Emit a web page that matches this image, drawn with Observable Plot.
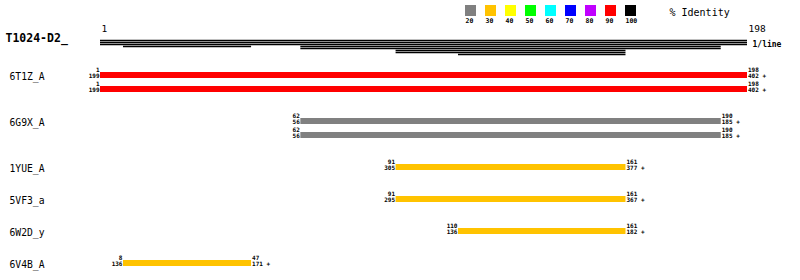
<!DOCTYPE html>
<html>
<head>
<meta charset="utf-8">
<script src="https://cdn.jsdelivr.net/npm/d3@7"></script>
<script src="https://cdn.jsdelivr.net/npm/@observablehq/plot@0.6"></script>
<style>
  html, body { margin: 0; padding: 0; background: #fff; }
  #wrap { position: relative; width: 800px; height: 280px; }
  #wrap svg { position: absolute; left: 0; top: 0; background: transparent; }
</style>
</head>
<body>
<div id="wrap"></div>
<script>
// ---- data ----
const queryName = "T1024-D2_";
const queryLength = 198;
const axisTicks = [1, 198];
const coverageLabel = "1/line";
const legendTitle = "% Identity";

const templates = ["6T1Z_A", "6G9X_A", "1YUE_A", "5VF3_a", "6W2D_y", "6V4B_A"];
const hitTemplate = ["6T1Z_A", "6T1Z_A", "6G9X_A", "6G9X_A", "1YUE_A", "5VF3_a", "6W2D_y", "6V4B_A"];
const qStart = [1, 1, 62, 62, 91, 91, 110, 8];
const qEnd = [198, 198, 190, 190, 161, 161, 161, 47];
const tStart = [199, 199, 56, 56, 305, 295, 136, 136];
const tEnd = [402, 402, 185, 185, 377, 367, 182, 171];
const identityBin = [90, 90, 20, 20, 30, 30, 30, 30];

const identityLevels = [20, 30, 40, 50, 60, 70, 80, 90, 100];
const identityColors = ["#808080", "#ffc300", "#ffff00", "#00ff00", "#00ffff", "#0000ff", "#c000ff", "#ff0000", "#000000"];

// ---- layout (px) ----
const FONT = "DejaVu Sans Mono";
const NUM = {fontSize: 6, lineHeight: 1, lineAnchor: "middle", fill: "#000", letterSpacing: 1, fontWeight: 600};
const firstBar = 75, lineStep = 14, groupGap = 18;
const covTop = 40, covStep = 2;

const hits = hitTemplate.map((t, i) => ({
  template: t, qs: qStart[i], qe: qEnd[i], ts: tStart[i], te: tEnd[i], id: identityBin[i]
}));
hits.forEach((h, i) => {
  const g = templates.indexOf(h.template);
  h.cy = firstBar + lineStep * i + groupGap * g;
});
const labels = templates.map(t => ({name: t, cy: hits.find(h => h.template === t).cy}));

// coverage packing: query on row 0, hits packed greedily
const rows = [[{s: 1, e: queryLength}]];
const coverage = [{s: 1, e: queryLength, row: 0}];
for (const h of hits) {
  let r = rows.findIndex(row => row.every(seg => h.qe < seg.s || h.qs > seg.e));
  if (r < 0) { rows.push([]); r = rows.length - 1; }
  rows[r].push({s: h.qs, e: h.qe});
  coverage.push({s: h.qs, e: h.qe, row: r});
}

const colorScale = {type: "ordinal", domain: identityLevels, range: identityColors};

const main = Plot.plot({
  width: 800, height: 280,
  marginLeft: 0, marginRight: 0, marginTop: 0, marginBottom: 0,
  x: {domain: [1, queryLength], range: [100, 747], axis: null},
  y: {domain: [0, 280], range: [0, 280], axis: null},
  color: colorScale,
  style: {fontFamily: FONT, background: "#fff", color: "#000"},
  marks: [
    Plot.text([queryName], {frameAnchor: "left", dx: 5, y: 38, text: d => d, fontWeight: "bold", fontSize: 11.5, fill: "#000"}),
    Plot.text(axisTicks, {x: d => d, y: 28, text: d => String(d), textAnchor: "start", dx: 1, fontSize: 9.5, fill: "#000"}),
    Plot.ruleY(coverage, {x1: "s", x2: "e", y: d => covTop + covStep * d.row, stroke: "#000", strokeWidth: 1.3}),
    Plot.text([coverageLabel], {x: queryLength, y: 44, text: d => d, textAnchor: "start", dx: 5, fontSize: 8, fontWeight: "bold", fill: "#000"}),
    Plot.text(labels, {frameAnchor: "left", dx: 9, y: d => d.cy + 1, text: "name", fontSize: 9.7, fill: "#000"}),
    Plot.rect(hits, {x1: "qs", x2: "qe", y1: d => d.cy - 3, y2: d => d.cy + 3, fill: "id"}),
    Plot.text(hits, {x: "qs", y: d => d.cy - 2, text: d => `${d.qs}\n${d.ts}`, textAnchor: "end", dx: -1, ...NUM}),
    Plot.text(hits, {x: "qe", y: d => d.cy - 2, text: d => `${d.qe}\n${d.te} +`, textAnchor: "start", dx: 0.5, ...NUM})
  ]
});

const legend = Plot.plot({
  width: 800, height: 26,
  marginLeft: 0, marginRight: 0, marginTop: 0, marginBottom: 0,
  x: {type: "band", domain: identityLevels, range: [460.5, 640.5], paddingInner: 0.45, paddingOuter: 0.225, axis: null},
  y: {domain: [0, 26], range: [0, 26], axis: null},
  color: colorScale,
  style: {fontFamily: FONT, background: "transparent", color: "#000"},
  marks: [
    Plot.barY(identityLevels, {x: d => d, y1: 5, y2: 16, fill: d => d, inset: 0}),
    Plot.text(identityLevels, {x: d => d, y: 20, text: d => String(d), textAnchor: "start", dx: -5.5, fontSize: 6.5, letterSpacing: 1.1, fontWeight: 600, fill: "#000"}),
    Plot.text([legendTitle], {frameAnchor: "left", dx: 669, y: 12, text: d => d, textAnchor: "start", fontSize: 10, fill: "#000"})
  ]
});

const wrap = document.getElementById("wrap");
wrap.appendChild(main);
wrap.appendChild(legend);
</script>
</body>
</html>
